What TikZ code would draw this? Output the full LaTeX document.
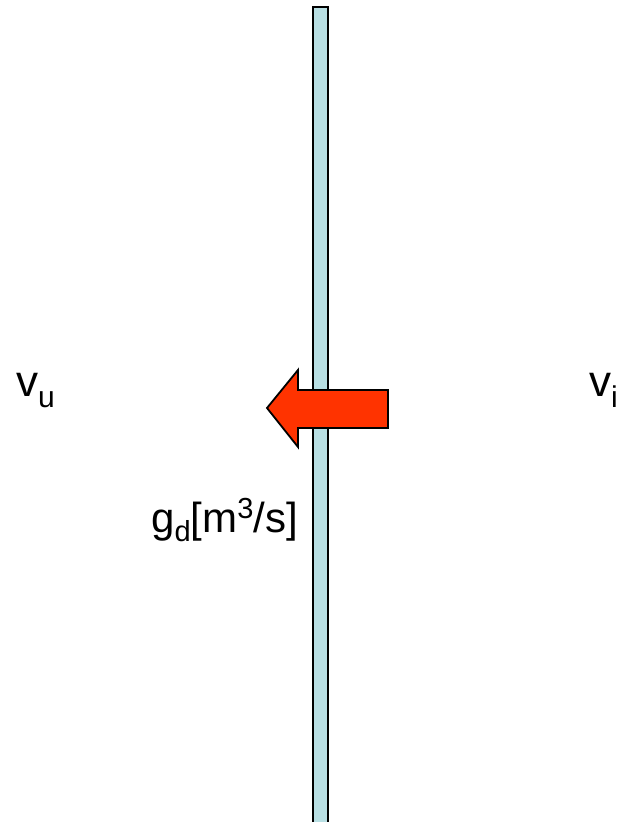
\documentclass[tikz,border=0pt]{standalone}
\usepackage{fontspec}
\setmainfont{Liberation Sans}
\definecolor{barfill}{HTML}{B8DFE3}
\definecolor{arrowfill}{HTML}{FF3300}
\begin{document}
\begin{tikzpicture}[x=1pt,y=1pt,
  lbl/.style={anchor=base west, inner sep=0pt, font=\fontsize{44}{44}\selectfont},
  lblg/.style={anchor=base east, inner sep=0pt, font=\fontsize{42}{42}\selectfont}]
\useasboundingbox (0,0) rectangle (621,822);
% wall
\draw[line width=2pt, fill=barfill] (313,-10) rectangle (328,815);
% flow arrow
\draw[line width=1.8pt, fill=arrowfill, line join=miter]
  (267,414) -- (298,452) -- (298,432) -- (388,432) -- (388,394) -- (298,394) -- (298,375) -- cycle;
% labels
\node[lbl] (vu) at (16,425) {v\raisebox{-11pt}{\fontsize{30}{30}\selectfont u}};
\node[lbl] (vi) at (589,425) {v\raisebox{-11pt}{\fontsize{30}{30}\selectfont i}};
\node[lblg] (gd) at (298,289) {g\raisebox{-9pt}{\fontsize{29}{29}\selectfont d}[m\raisebox{14pt}{\fontsize{29}{29}\selectfont 3}/s]};
\end{tikzpicture}
\end{document}
